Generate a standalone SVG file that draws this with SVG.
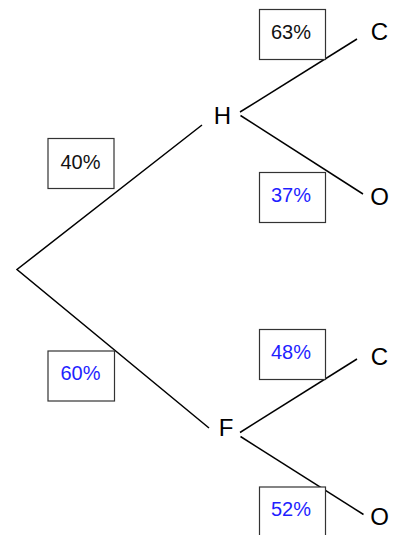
<svg xmlns="http://www.w3.org/2000/svg" width="393" height="535" viewBox="0 0 393 535">
  <style>
    .branch { stroke: #000; stroke-width: 1.5; fill: none; }
    .box { fill: #fff; stroke: #333; stroke-width: 1.2; }
    .pct { font-family: "Liberation Sans", Arial, sans-serif; font-size: 20px; text-anchor: middle; }
    .given { fill: #111; }
    .derived { fill: #1f1fff; }
    .label { font-family: "Liberation Sans", Arial, sans-serif; font-size: 24px; fill: #000; text-anchor: middle; }
  </style>
  <rect width="393" height="535" fill="#fff"/>

  <!-- tree branches -->
  <g id="connectors">
    <path class="branch" d="M202,125 L17,269.5 L209,428"/>
    <line class="branch" x1="240" y1="112" x2="357" y2="39"/>
    <line class="branch" x1="240.5" y1="115.5" x2="363" y2="194"/>
    <line class="branch" x1="240" y1="432.5" x2="357" y2="359"/>
    <line class="branch" x1="240.5" y1="436.5" x2="363.5" y2="514.5"/>
  </g>

  <!-- probability boxes -->
  <g id="p-h">
    <rect class="box" x="48" y="138.5" width="66" height="50"/>
    <text class="pct given" x="80.5" y="169">40%</text>
  </g>
  <g id="p-f">
    <rect class="box" x="48" y="351" width="66.5" height="50"/>
    <text class="pct derived" x="80.5" y="380">60%</text>
  </g>
  <g id="p-hc">
    <rect class="box" x="259.5" y="9.5" width="66" height="50"/>
    <text class="pct given" x="291" y="39.3">63%</text>
  </g>
  <g id="p-ho">
    <rect class="box" x="259.5" y="172.5" width="66" height="50"/>
    <text class="pct derived" x="291" y="202.3">37%</text>
  </g>
  <g id="p-fc">
    <rect class="box" x="259.5" y="329.5" width="66" height="50"/>
    <text class="pct derived" x="291" y="358.5">48%</text>
  </g>
  <g id="p-fo">
    <rect class="box" x="259.5" y="487" width="66" height="60"/>
    <text class="pct derived" x="291" y="515.7">52%</text>
  </g>

  <!-- outcome labels -->
  <g id="node-h"><text class="label" x="222.5" y="124">H</text></g>
  <g id="node-f"><text class="label" x="226" y="436">F</text></g>
  <g id="node-hc"><text class="label" x="379.5" y="39.5">C</text></g>
  <g id="node-ho"><text class="label" x="379.5" y="204.5">O</text></g>
  <g id="node-fc"><text class="label" x="379.5" y="365">C</text></g>
  <g id="node-fo"><text class="label" x="379.5" y="524.5">O</text></g>
</svg>
